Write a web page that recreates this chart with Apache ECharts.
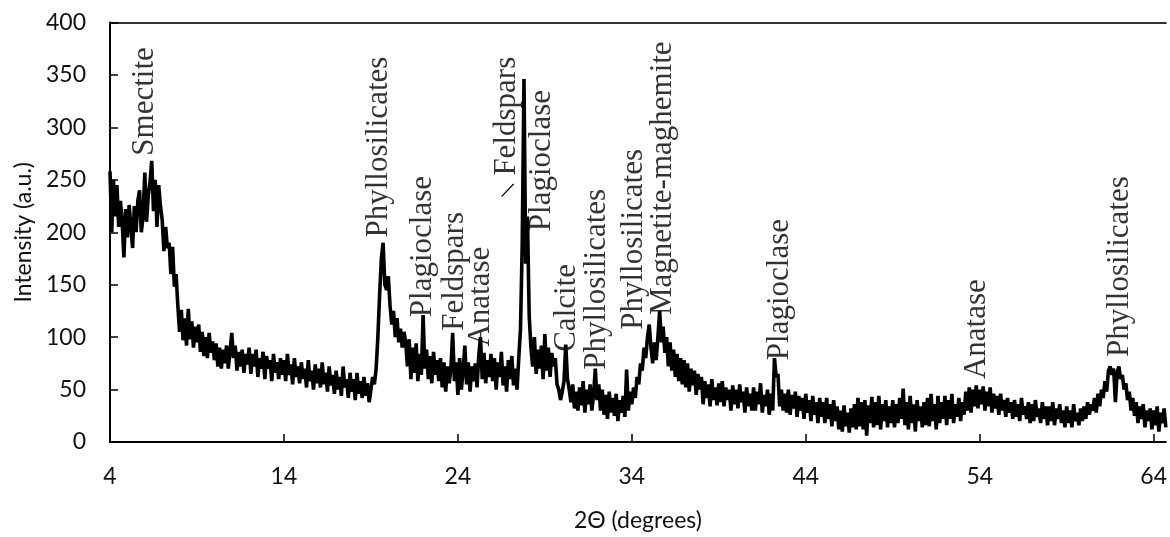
<!DOCTYPE html>
<html>
<head>
<meta charset="utf-8">
<script src="https://cdn.jsdelivr.net/npm/echarts@6/dist/echarts.min.js"></script>
<style>
html,body{margin:0;padding:0;background:#fff;}
#c{width:1170px;height:537px;}
</style>
</head>
<body>
<div id="c"></div>
<script>
// 2θ start and step of the scan (degrees)
const thetaStart = 4;
const thetaStep = 0.1;
const intensity = [
258,200,250,215,245,205,230,210,176,222,
195,226,205,185,225,200,230,240,200,215,
257,210,235,248,268,220,250,205,245,225,
212,182,205,185,190,160,186,148,160,130,
105,126,97,118,92,127,98,115,90,110,
95,112,86,105,82,100,80,104,85,96,
78,94,72,90,70,88,75,92,70,86,
104,80,92,68,86,72,88,66,84,74,
90,65,84,72,88,62,80,70,86,60,
82,70,78,58,84,66,76,60,80,64,
78,58,84,64,74,55,80,62,72,56,
76,60,70,52,78,58,68,50,74,56,
70,52,76,55,66,48,72,54,64,46,
68,50,62,44,72,52,60,42,66,48,
60,40,66,46,58,42,62,44,56,38,
50,62,55,70,100,140,175,190,150,145,
158,130,112,125,100,118,95,108,90,105,
95,72,98,60,90,66,94,58,84,64,
121,70,88,60,82,56,86,64,78,58,
80,52,76,48,72,56,70,104,58,76,
45,80,50,68,92,55,76,48,72,58,
75,52,82,100,60,85,56,78,62,84,
58,80,50,76,62,86,54,72,48,78,
60,82,54,70,50,80,108,190,346,170,
215,120,90,72,100,65,88,70,92,60,
103,68,90,62,85,72,80,55,50,40,
48,58,93,60,50,38,55,32,48,30,
52,35,58,28,50,36,55,30,45,70,
40,55,30,50,26,45,22,48,28,42,
25,46,20,40,28,44,24,69,30,48,
36,52,42,62,55,75,68,90,80,100,
112,90,75,95,78,100,125,95,110,85,
100,72,95,68,88,62,84,58,80,55,
78,52,75,48,70,54,68,45,65,50,
62,36,58,42,55,34,60,40,52,35,
56,38,58,34,52,40,50,30,54,36,
50,32,55,38,48,28,52,34,46,30,
52,30,48,36,56,28,45,34,50,26,
46,30,80,62,65,34,50,30,46,28,
50,26,45,32,48,24,44,30,42,22,
46,28,40,20,44,26,38,18,42,24,
38,18,42,22,36,15,40,20,34,12,
30,10,35,15,28,9,32,14,36,12,
42,15,38,12,40,6,35,18,43,14,
38,16,44,12,36,20,40,14,34,18,
40,14,36,18,42,22,51,16,38,12,
44,18,36,10,40,20,34,14,38,16,
42,15,46,20,36,12,44,18,38,22,
44,16,40,22,46,18,36,24,42,20,
38,26,48,30,52,28,50,34,54,32,
50,36,53,30,48,34,52,28,46,32,
44,26,46,30,40,24,42,28,38,22,
40,24,36,20,42,26,34,22,38,18,
36,20,40,24,32,18,38,22,34,16,
34,20,38,16,32,22,36,18,30,14,
34,18,30,14,36,20,28,16,32,20,
34,22,38,26,36,30,42,28,46,34,
50,42,58,48,68,72,64,70,38,66,
72,60,64,50,56,40,48,30,42,25,
38,18,34,22,36,14,30,20,32,12,
30,16,34,10,28,18,32,14
];
// Phase labels: text, 2θ position, intensity at the start of the text
const labelNames = ['Smectite','Phyllosilicates','Plagioclase','Feldspars','Anatase','Feldspars','Plagioclase','Calcite','Phyllosilicates','Phyllosilicates','Magnetite-maghemite','Plagioclase','Anatase','Phyllosilicates'];
const labelTheta = [6.0,19.45,21.98,23.82,25.3,26.8,28.85,30.26,32.0,34.12,35.78,42.5,53.82,62.06];
const labelIntensity = [273,195,119,106,91,254,201,86,69,107,121,78,60,81];
// leader stroke next to the second Feldspars label
const leaderTheta = [26.51, 27.2];
const leaderIntensity = [234, 246];
// axis ticks
const xTickMin = 4, xTickStep = 10, xMax = 64.7;
const yMin = 0, yMax = 400, yStep = 50;

const pattern = intensity.map((v, i) => [+(thetaStart + i * thetaStep).toFixed(2), v]);
const labelData = labelNames.map((n, i) => ({ value: [labelTheta[i], labelIntensity[i]], name: n }));
const leaderData = leaderTheta.map((t, i) => [t, leaderIntensity[i]]);

const font = 'Lato, "Liberation Sans", sans-serif';
const chart = echarts.init(document.getElementById('c'), null, { renderer: 'canvas' });
chart.setOption({
  animation: false,
  backgroundColor: '#fff',
  grid: { left: 110, right: 0, top: 22.5, bottom: 87, containLabel: false },
  xAxis: [{
    type: 'value', min: xTickMin, max: xMax, interval: xTickStep, position: 'bottom',
    axisLine: { show: true, onZero: false, lineStyle: { color: '#000', width: 2 } },
    axisTick: { show: true, inside: true, length: 8, lineStyle: { color: '#000', width: 1.5 } },
    axisLabel: { fontFamily: font, fontSize: 23, color: '#111', margin: 23, showMaxLabel: false },
    splitLine: { show: false },
    name: '2Θ (degrees)', nameLocation: 'middle', nameGap: 67,
    nameTextStyle: { fontFamily: font, fontSize: 23, color: '#111' }
  }, {
    type: 'value', min: xTickMin, max: xMax, position: 'top',
    axisLine: { show: true, onZero: false, lineStyle: { color: '#333', width: 2 } },
    axisTick: { show: false }, axisLabel: { show: false }, splitLine: { show: false }
  }],
  yAxis: {
    type: 'value', min: yMin, max: yMax, interval: yStep,
    axisLine: { show: true, lineStyle: { color: '#000', width: 2 } },
    axisTick: { show: true, inside: true, length: 8, lineStyle: { color: '#000', width: 1.5 } },
    axisLabel: { fontFamily: font, fontSize: 23, color: '#111', margin: 24 },
    splitLine: { show: false },
    name: 'Intensity (a.u.)', nameLocation: 'middle', nameGap: 74,
    nameTextStyle: { fontFamily: font, fontSize: 23, color: '#111' }
  },
  series: [{
    type: 'line', xAxisIndex: 0, data: pattern, showSymbol: false, symbol: 'none',
    lineStyle: { color: '#000', width: 3.6 }, silent: true, sampling: null, clip: true
  }, {
    type: 'scatter', xAxisIndex: 0, data: labelData, symbolSize: 1, silent: true,
    itemStyle: { color: 'rgba(0,0,0,0)' },
    label: {
      show: true, formatter: '{b}', position: 'inside', rotate: 90, align: 'left', verticalAlign: 'middle',
      fontFamily: '"Liberation Serif", "Times New Roman", serif', fontSize: 31, color: '#000'
    },
    labelLayout: { hideOverlap: false }
  }, {
    type: 'line', xAxisIndex: 0, data: leaderData, symbol: 'none', silent: true,
    lineStyle: { color: '#000', width: 1.2 }
  }]
});
</script>
</body>
</html>
